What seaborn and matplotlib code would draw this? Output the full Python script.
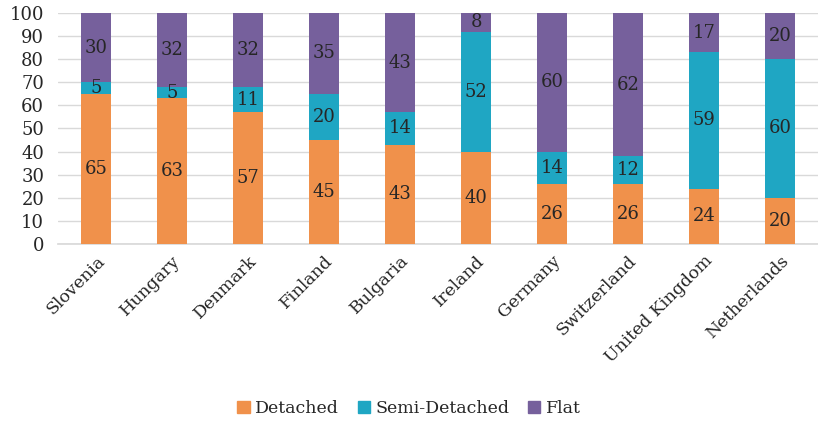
import matplotlib
matplotlib.use("Agg")
import matplotlib.pyplot as plt
import seaborn as sns
import pandas as pd
import numpy as np

countries = ["Slovenia", "Hungary", "Denmark", "Finland", "Bulgaria", "Ireland",
             "Germany", "Switzerland", "United Kingdom", "Netherlands"]
detached = [65, 63, 57, 45, 43, 40, 26, 26, 24, 20]
semi_detached = [5, 5, 11, 20, 14, 52, 14, 12, 59, 60]
flat = [30, 32, 32, 35, 43, 8, 60, 62, 17, 20]

series_names = ["Detached", "Semi-Detached", "Flat"]
colors = ["#F0914B", "#1FA6C3", "#76609C"]

sns.set_theme(style="white")
plt.rcParams['font.family'] = ['DejaVu Serif']

df = pd.DataFrame({"country": countries, "Detached": detached,
                   "Semi-Detached": semi_detached, "Flat": flat})

fig, ax = plt.subplots(figsize=(8.18, 4.22), dpi=100)
fig.subplots_adjust(left=0.071, right=1.0, top=0.969, bottom=0.422)

bottom = np.zeros(len(countries))
handles = []
for name, col in zip(series_names, colors):
    vals = np.array(df[name], dtype=float)
    tmp = pd.DataFrame({"country": countries, "v": vals})
    n_before = len(ax.patches)
    sns.barplot(data=tmp, x="country", y="v", color=col, width=0.4, ax=ax,
                saturation=1, zorder=3)
    new = ax.patches[n_before:]
    for p, b in zip(new, bottom):
        p.set_y(b)
        p.set_edgecolor("none")
    for p, v, b in zip(new, vals, bottom):
        ax.text(p.get_x() + p.get_width() / 2, b + v / 2, f"{int(v)}",
                ha="center", va="center", fontsize=13, color="#262626", zorder=5)
    handles.append(plt.Rectangle((0, 0), 1, 1, color=col))
    bottom = bottom + vals

ax.set_ylim(0, 100)
ax.set_xlim(-0.5, len(countries) - 0.5)
ax.set_yticks(range(0, 101, 10))
ax.yaxis.grid(True, color="#D9D9D9", linewidth=1, zorder=0)
ax.set_axisbelow(True)
for s in ["top", "right", "left"]:
    ax.spines[s].set_visible(False)
ax.spines["bottom"].set_color("#D9D9D9")
ax.set_xlabel("")
ax.set_ylabel("")
ax.tick_params(axis="y", labelsize=13, colors="#262626", length=0, pad=10)
ax.tick_params(axis="x", labelsize=12.5, colors="#262626", length=0, pad=6)
plt.setp(ax.get_xticklabels(), rotation=45, ha="right", rotation_mode="anchor")

fig.legend(handles, series_names, loc="lower center", ncol=3, frameon=False,
           fontsize=12.5, handlelength=0.7, handleheight=0.7, columnspacing=1.1,
           handletextpad=0.3, bbox_to_anchor=(0.5, -0.025),
           labelcolor="#262626")

fig.savefig("out.png", dpi=100)
